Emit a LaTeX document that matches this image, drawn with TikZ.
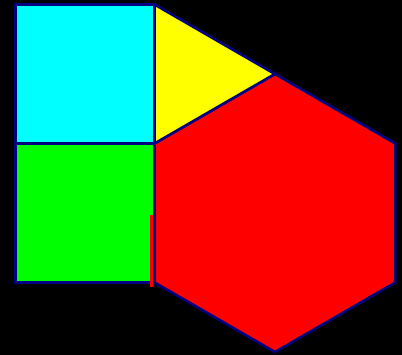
\documentclass[tikz,border=0pt]{standalone}
\usetikzlibrary{calc}

\begin{document}
\begin{tikzpicture}[x=1pt, y=-1pt,
  face/.style={fill=#1, draw=edge, line width=2.6pt, line join=miter}]
\definecolor{edge}{RGB}{0,0,128}
\definecolor{skyface}{RGB}{0,255,255}
\definecolor{leafface}{RGB}{0,255,0}
\definecolor{sunface}{RGB}{255,255,0}
\definecolor{fireface}{RGB}{255,0,0}
\fill[black] (0,0) rectangle (402,355);
\useasboundingbox (0,0) rectangle (402,355);
% corners of the two squares
\coordinate (tl) at (15.5,4.5);
\coordinate (tm) at (154.5,4.5);
\coordinate (ml) at (15.5,143.5);
\coordinate (mm) at (154.5,143.5);
\coordinate (bl) at (15.5,282.5);
\coordinate (bm) at (154.5,282.5);
% hexagon corners
\coordinate (htop) at (274.9,74);
\coordinate (hrt) at (395.3,143.5);
\coordinate (hrb) at (395.3,282.5);
\coordinate (hbot) at (274.9,352);
\draw[face=fireface] (mm) -- (htop) -- (hrt) -- (hrb) -- (hbot) -- (bm) -- cycle;
\draw[face=sunface] (tm) -- (htop) -- (mm) -- cycle;
\draw[face=skyface] (tl) rectangle (mm);
\draw[face=leafface] (ml) rectangle (bm);
% small strip left of the hexagon
\fill[fireface] (150,215) rectangle (153.2,287);
\draw[edge, line width=2.6pt] (bm) -- ++(0,-67);
\end{tikzpicture}
\end{document}
